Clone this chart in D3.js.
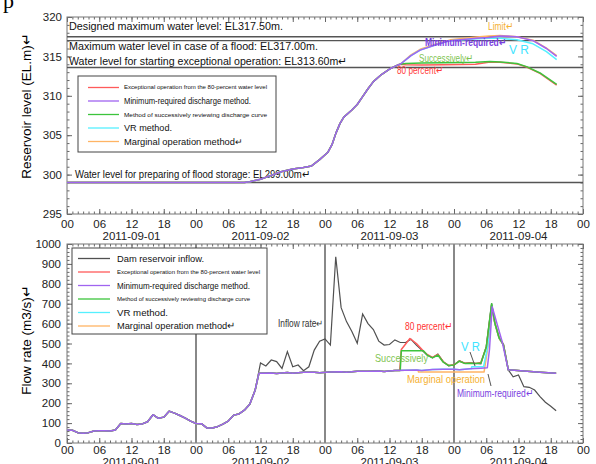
<!DOCTYPE html>
<html>
<head>
<meta charset="utf-8">
<script src="https://cdn.jsdelivr.net/npm/d3@7"></script>
<style>
body { margin: 0; background: #fff; }
svg { display: block; font-family: "Liberation Sans", Arial, sans-serif; }
</style>
</head>
<body>
<svg width="596" height="464"></svg>
<script>
// hours since 2011-09-01 00:00
const hourTicks = d3.range(0, 97, 6);
const dayNames = ['2011-09-01', '2011-09-02', '2011-09-03', '2011-09-04'];
const dayMid = [12, 36, 60, 84];
const dayLines = [24, 48, 72];

const levelTicks = [295, 300, 305, 310, 315, 320];
const flowTicks = d3.range(0, 1001, 100);

// reference water levels (EL.m)
const refLevels = [317.5, 317.0, 313.6, 299.0];

const methodNames = [
  'Exceptional operation from the 80-percent water level',
  'Minimum-required discharge method.',
  'Method of successively reviewing discharge curve',
  'VR method.',
  'Marginal operation method\u21b5'
];

// dam reservoir inflow (m3/s)
const inflow = [
  [0,65],[1,64],[2,52],[3,49],[4,52],[5,60],[6,62],[7,61],[8,60],[9,65],[10,98],[11,96],
  [12,98],[13,93],[14,96],[15,107],[16,142],[17,124],[18,130],[19,160],[20,150],[21,138],[22,125],[23,110],
  [24,98],[25,97],[26,76],[27,75],[28,82],[29,95],[30,110],[31,140],[32,146],[33,165],[34,195],[35,265],
  [36,402],[37,387],[38,417],[39,409],[40,375],[41,459],[42,383],[43,392],[44,363],[45,383],[46,467],[47,512],
  [48,523],[49,492],[50,936],[51,680],[52,610],[53,560],[54,501],[55,648],[56,600],[57,570],[58,512],[59,492],
  [60,495],[61,518],[62,505],[63,505],[64,521],[65,492],[66,467],[67,442],[68,428],[69,447],[70,409],[71,388],
  [72,392],[73,414],[74,400],[75,403],[76,400],[77,398],[78,484],[79,702],[79.6,601],[80.4,526],[81.2,492],[82.1,367],
  [83,333],[84,342],[85,283],[86,280],[87,266],[88,233],[89,205],[90,185],[91,162]
];

// minimum-required discharge (m3/s)
const minReqFlow = [
  [0,65],[1,64],[2,52],[3,49],[4,52],[5,60],[6,62],[7,61],[8,60],[9,65],[10,98],[11,96],
  [12,98],[13,93],[14,96],[15,107],[16,142],[17,124],[18,130],[19,160],[20,150],[21,138],[22,125],[23,110],
  [24,98],[25,97],[26,76],[27,75],[28,82],[29,95],[30,110],[31,140],[32,146],[33,165],[34,195],[35,265],
  [35.7,350],[38,352],[39,349],[41,354],[42,351],[44,355],[46,356],[47,353],[49,357],[51,358],[52,355],[54,360],
  [56,361],[58,362],[59,359],[61,364],[63,366],[65,367],[66,364],[68,369],[70,370],[72,371],[73,368],[75,373],
  [77,376],[78.2,378],[78.6,470],[79.1,685],[80,600],[81,505],[82.1,368],[85,362],[88,356],[91,350]
];

// discharge of other methods after they leave the minimum-required line
const flowPeakTail = [[82.1,368],[85,362],[88,356],[91,350]];
const redFlowTail = [
  [61.9,364],[62.2,470],[63.8,525],[65,500],[66.3,462],[67,445],[68,430],[69,445],[70,408],[71,390],
  [72,393],[73,412],[74,401],[75,402],[76,400],[77,405],[78,480],[79,690],[79.6,605],[80.4,530],[81.2,495]
];
const greenFlowTail = [
  [62,364],[62.2,464],[66.3,464],[67,442],[68,428],[69,442],[70,406],[71,389],
  [72,392],[73,411],[74,400],[75,401],[76,399],[77,402],[78,482],[79,700],[79.6,603],[80.4,528],[81.2,494]
];
const vrFlowTail = [[75.2,373],[75.3,383],[77.5,383],[78.3,490],[79,692],[79.6,602],[80.4,527],[81.2,493]];
const marginalFlowTail = [[65.3,367],[65.4,357],[77.6,357],[78.3,480],[79,688],[79.6,600],[80.4,525],[81.2,492]];

// reservoir water level (EL.m), common part
const levelCommon = [
  [0,299],[33,299],[34,299.1],[36,299.4],[38,299.9],[40,300.4],[42,300.7],[44,300.9],[45.5,301.1],
  [47,301.9],[48.5,302.8],[49.3,303.8],[50,305.2],[50.8,306.5],[51.5,307.3],[53,308.2],[54,308.9],
  [55,309.9],[56,310.9],[57,311.8],[58.5,312.7],[60,313.4],[61.5,313.9],[62,314.0]
];
const minReqLevelTail = [[64,315.1],[65.7,315.8],[68.8,316.5],[71.3,317.0],[76.2,317.3],[78.5,317.4],[80.6,317.6],[83.7,317.5],[86.7,317.0],[89.2,316.0],[91.1,315.0]];
const marginalLevelTail = [[64,315.2],[65.7,315.9],[68.8,316.6],[71.3,317.1],[76.2,317.45],[78.5,317.6],[80.6,317.65],[83.7,317.5],[86.7,317.05],[89.2,316.05],[91.1,315.1]];
const vrLevelTail = [[64,315.1],[65.7,315.8],[68.8,316.5],[71.3,317.0],[76.2,317.25],[78.5,317.3],[80.6,317.3],[83.7,317.1],[86.7,316.6],[89.2,315.6],[91.1,314.6]];
const greenLevelTail = [[63,314.1],[66,314.15],[70,314.2],[76,314.25],[78.7,314.35],[80.6,314.3],[83.7,314.1],[85.5,313.7],[88,312.9],[91.1,311.45]];
const redLevelTail = [[63,313.95],[66,313.9],[70,313.95],[76,314.0],[78.7,314.3],[80.6,314.25],[83.7,314.05],[85.5,313.65],[88,312.85],[91.1,311.35]];

const colors = {
  inflow: '#505050',
  red: '#ff5a5a',
  purple: '#a064f0',
  green: '#3cc43c',
  cyan: '#55f0ff',
  orange: '#ffb464'
};
const methodColors = [colors.red, colors.purple, colors.green, colors.cyan, colors.orange];

const svg = d3.select('svg');

const x = d3.scaleLinear().domain([0, 96]).range([67, 583]);
const yLevel = d3.scaleLinear().domain([295, 320]).range([214, 17]);
const yFlow = d3.scaleLinear().domain([0, 1000]).range([443, 244]);

const before = (arr, h) => arr.filter(d => d[0] < h);

const flowSeries = {
  orange: before(minReqFlow, 65.3).concat(marginalFlowTail, flowPeakTail),
  cyan: before(minReqFlow, 75.2).concat(vrFlowTail, flowPeakTail),
  red: before(minReqFlow, 61.9).concat(redFlowTail, flowPeakTail),
  green: before(minReqFlow, 62).concat(greenFlowTail, flowPeakTail),
  purple: minReqFlow
};
const levelSeries = {
  orange: levelCommon.concat(marginalLevelTail),
  cyan: levelCommon.concat(vrLevelTail),
  red: levelCommon.concat(redLevelTail),
  green: levelCommon.concat(greenLevelTail),
  purple: levelCommon.concat(minReqLevelTail)
};

const fmtHour = h => d3.format('02')(h % 24);

function panel(y, majors, minors, xPad, yPad) {
  const [x0, x1] = x.range();
  const [b, t] = y.range();
  const g = svg.append('g');

  const styleAxis = sel => {
    sel.select('.domain').remove();
    sel.selectAll('line').attr('stroke', '#666');
    sel.attr('font-family', '"Liberation Sans", Arial, sans-serif').attr('font-size', 11.5);
    sel.selectAll('text').attr('fill', '#222');
  };

  g.append('g').attr('transform', `translate(0,${b})`)
    .call(d3.axisBottom(x).tickValues(d3.range(0, 97)).tickSize(-2.5).tickSizeOuter(0).tickFormat(''))
    .call(styleAxis);
  g.append('g').attr('transform', `translate(0,${b})`)
    .call(d3.axisBottom(x).tickValues(hourTicks).tickSize(-5).tickSizeOuter(0).tickPadding(xPad).tickFormat(fmtHour))
    .call(styleAxis);
  g.append('g').attr('transform', `translate(0,${t})`)
    .call(d3.axisTop(x).tickValues(d3.range(0, 97)).tickSize(-2.5).tickSizeOuter(0).tickFormat(''))
    .call(styleAxis);
  g.append('g').attr('transform', `translate(0,${t})`)
    .call(d3.axisTop(x).tickValues(hourTicks).tickSize(-5).tickSizeOuter(0).tickFormat(''))
    .call(styleAxis);

  [[d3.axisLeft, x0], [d3.axisRight, x1]].forEach(([ax, pos], i) => {
    g.append('g').attr('transform', `translate(${pos},0)`)
      .call(ax(y).tickValues(minors).tickSize(-2.5).tickSizeOuter(0).tickFormat(''))
      .call(styleAxis);
    g.append('g').attr('transform', `translate(${pos},0)`)
      .call(ax(y).tickValues(majors).tickSize(-5).tickSizeOuter(0).tickPadding(yPad)
        .tickFormat(i === 0 ? d3.format('d') : ''))
      .call(styleAxis);
  });

  g.append('rect')
    .attr('x', x0).attr('y', t)
    .attr('width', x1 - x0).attr('height', b - t)
    .attr('fill', 'none').attr('stroke', '#777').attr('stroke-width', 1);
  return g;
}

function drawLines(g, y, series) {
  const line = d3.line().x(d => x(d[0])).y(d => y(d[1]));
  ['orange', 'cyan', 'red', 'green', 'purple'].forEach(k => {
    g.append('path')
      .datum(series[k])
      .attr('d', line)
      .attr('fill', 'none')
      .attr('stroke', colors[k])
      .attr('stroke-width', 1.5)
      .attr('stroke-linejoin', 'round');
  });
}

// text squeezed to the width it has in the reference
function label(g, txt, px, py, color, size, width) {
  const t = g.append('text').attr('x', px).attr('y', py)
    .attr('font-size', size).attr('fill', color)
    .text(txt);
  if (width) t.attr('textLength', width).attr('lengthAdjust', 'spacingAndGlyphs');
  return t;
}

function legend(g, left, topY, w, h, items, lx, tx, y0, dy) {
  g.append('rect').attr('x', left).attr('y', topY).attr('width', w).attr('height', h)
    .attr('fill', '#fff').attr('stroke', '#444').attr('stroke-width', 1);
  items.forEach((it, i) => {
    const yy = y0 + i * dy;
    g.append('line').attr('x1', lx[0]).attr('x2', lx[1]).attr('y1', yy).attr('y2', yy)
      .attr('stroke', it.color).attr('stroke-width', 1.3);
    label(g, it.name, tx, yy, '#111', it.size, it.width).attr('dy', '0.35em');
  });
}

// ---------- upper panel: reservoir level ----------
const upper = panel(yLevel, levelTicks, d3.range(295, 321), 5.5, 5);

upper.selectAll('.ref')
  .data(refLevels)
  .enter()
  .append('line')
    .attr('x1', x(0)).attr('x2', x(96))
    .attr('y1', d => yLevel(d)).attr('y2', d => yLevel(d))
    .attr('stroke', '#555').attr('stroke-width', 1.4);

label(upper, 'Designed maximum water level: EL317.50m.', 69, 29.5, '#111', 11, 214);
label(upper, 'Maximum water level in case of a flood: EL317.00m.', 69, 50, '#111', 11, 249);
label(upper, 'Water level for starting exceptional operation: EL313.60m\u21b5', 69, 64.5, '#111', 11, 278);
label(upper, 'Water level for preparing of flood storage:     EL299.00m\u21b5', 75, 178, '#111', 10.5, 235);

legend(upper, 78, 76, 198, 76,
  methodNames.map((n, i) => ({
    name: n,
    color: methodColors[i],
    size: [5.6, 9.3, 5.8, 9.3, 9.3][i],
    width: [143, 127, 143, 48, 119][i]
  })),
  [88, 119], 124, 87.5, 13.5);

drawLines(upper, yLevel, levelSeries);

label(upper, 'Limit\u21b5', 488, 30, '#f5b030', 10.5, 25);
label(upper, 'Minimum-required\u21b5', 425, 46, '#7a3ee0', 10.5, 81).attr('font-weight', 'bold');
label(upper, 'V R', 509, 54, '#40e4ff', 12.5, 20);
label(upper, 'Successively\u21b5', 419, 62, '#80c450', 10.5, 54);
label(upper, '80 percent\u21b5', 397, 74, '#ff3a3a', 10.5, 46);

// ---------- lower panel: flow rate ----------
const lower = panel(yFlow, flowTicks, d3.range(0, 1001, 20), 2.5, 6);

lower.selectAll('.day')
  .data(dayLines)
  .enter()
  .append('line')
    .attr('x1', d => x(d)).attr('x2', d => x(d))
    .attr('y1', yFlow(1000)).attr('y2', yFlow(0))
    .attr('stroke', '#888').attr('stroke-width', 2);

legend(lower, 72, 248, 195, 86,
  [{ name: 'Dam reservoir inflow.', color: colors.inflow, size: 9.5, width: 87 }].concat(
    methodNames.map((n, i) => ({
      name: n,
      color: methodColors[i],
      size: [5.6, 9.5, 5.8, 9.5, 9.5][i],
      width: [143, 133, 133, 51, 118][i]
    }))),
  [78, 110], 117, 258.5, 13.5);

lower.append('path')
  .datum(inflow)
  .attr('d', d3.line().x(d => x(d[0])).y(d => yFlow(d[1])))
  .attr('fill', 'none').attr('stroke', colors.inflow).attr('stroke-width', 1.2);

drawLines(lower, yFlow, flowSeries);

// leader lines
lower.append('line').attr('x1', 470).attr('y1', 352).attr('x2', 475).attr('y2', 366).attr('stroke', '#555');
lower.append('line').attr('x1', 488).attr('y1', 374).attr('x2', 491).attr('y2', 386).attr('stroke', '#555');

label(lower, 'Inflow rate\u21b5', 278, 326.5, '#333', 10, 45);
label(lower, '80 percent\u21b5', 405, 330, '#ff3030', 10.5, 47);
label(lower, 'Successively', 375, 362, '#80c450', 10.5, 53);
label(lower, 'V R', 461, 351, '#40e4ff', 12.5, 19);
label(lower, 'Marginal operation', 407, 382.5, '#f5b030', 10.5, 78);
label(lower, 'Minimum-required\u21b5', 457, 397, '#7a3ee0', 10.5, 76);

// date labels
[240, 466].forEach(by => {
  svg.selectAll(null)
    .data(dayNames)
    .enter()
    .append('text')
      .attr('x', (d, i) => x(dayMid[i]))
      .attr('y', by)
      .attr('text-anchor', 'middle')
      .attr('font-size', 11.5)
      .attr('fill', '#222')
      .text(d => d);
});

// axis titles
svg.append('text')
  .attr('transform', 'translate(31,106) rotate(-90)')
  .attr('text-anchor', 'middle')
  .attr('font-size', 13.5)
  .text('Reservoir level (EL.m)\u21b5');
svg.append('text')
  .attr('transform', 'translate(31,340) rotate(-90)')
  .attr('text-anchor', 'middle')
  .attr('font-size', 13.5)
  .text('Flow rate (m3/s)\u21b5');

// stray glyph at the top-left corner
svg.append('text').attr('x', 3).attr('y', 8)
  .attr('font-family', '"Liberation Serif", serif').attr('font-size', 22).text('p');
</script>
</body>
</html>
